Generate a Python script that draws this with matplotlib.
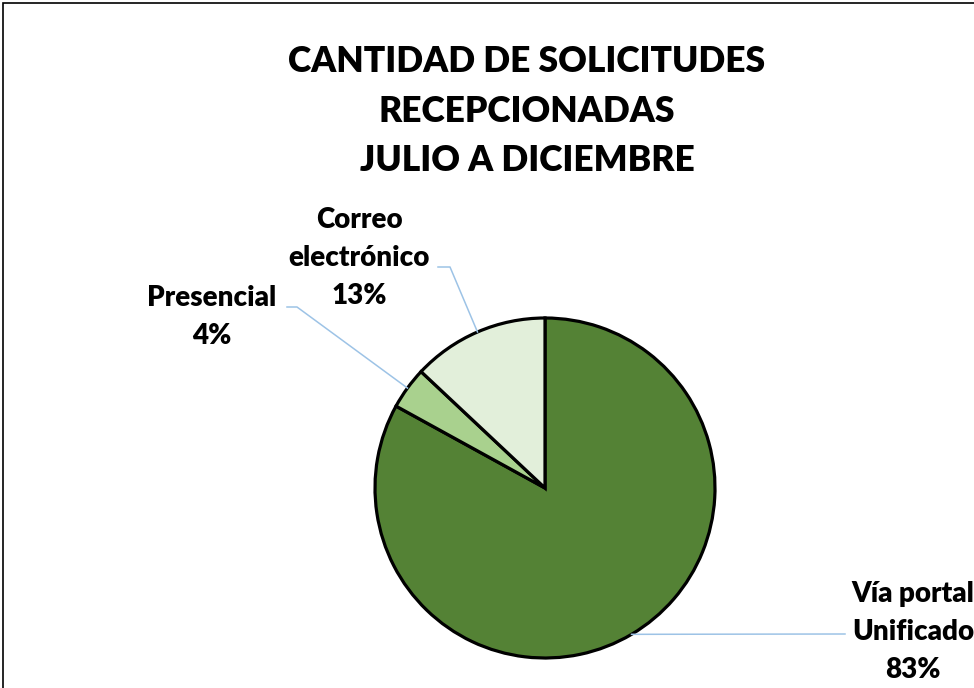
import matplotlib.pyplot as plt
from matplotlib.patches import Rectangle
from matplotlib.lines import Line2D
import numpy as np

W, H = 974, 688

CATEGORIES = ['Vía portal\nUnificado', 'Presencial', 'Correo\nelectrónico']
PERCENTS = [83, 4, 13]
COLORS = ['#548235', '#a9d18e', '#e2efda']
TITLE = 'CANTIDAD DE SOLICITUDES\nRECEPCIONADAS\nJULIO A DICIEMBRE'

FONT = 'Lato'
LEADER = '#9dc3e6'


def fx(x):
    return x / W


def fy(y):
    return 1 - y / H


fig = plt.figure(figsize=(W / 100, H / 100), dpi=100)

# outer chart border (right and bottom edges run off the picture)
fig.patches.append(Rectangle((fx(3), fy(H + 10)), fx(W + 10), fy(3) - fy(H + 10),
                             transform=fig.transFigure, fill=False,
                             edgecolor='black', linewidth=1.2))

fig.text(fx(527), fy(111), TITLE, ha='center', va='center', fontsize=25.5,
         fontweight='heavy', family=FONT, linespacing=1.6)

# pie centre (545, 488), radius 170 px
r = 170
ax = fig.add_axes([fx(545 - r), fy(488 + r), fx(2 * r), fy(488 - r) - fy(488 + r)])
wedges, _ = ax.pie(PERCENTS, colors=COLORS, startangle=90, counterclock=False,
                   wedgeprops=dict(edgecolor='black', linewidth=2.3))
ax.set_xlim(-1, 1)
ax.set_ylim(-1, 1)
ax.set_aspect('equal')
ax.axis('off')


def anchor(w):
    ang = np.deg2rad((w.theta1 + w.theta2) / 2)
    x, y = np.cos(ang), np.sin(ang)
    disp = ax.transData.transform((x, y))
    return fig.transFigure.inverted().transform(disp)


# label text centres and leader elbows (pixels)
label_pos = [(913, 632), (212, 317), (359, 258)]
elbows = [[(845, 634)], [(287, 307), (297, 307)], [(438, 267), (450, 267)]]

for w, cat, pct, (tx, ty), elb in zip(wedges, CATEGORIES, PERCENTS, label_pos, elbows):
    fig.text(fx(tx), fy(ty), f'{cat}\n{pct}%', ha='center', va='center',
             fontsize=20, fontweight='heavy', family=FONT, linespacing=1.55)
    ax_pt = anchor(w)
    xs = [fx(p[0]) for p in elb] + [ax_pt[0]]
    ys = [fy(p[1]) for p in elb] + [ax_pt[1]]
    fig.add_artist(Line2D(xs, ys, transform=fig.transFigure, color=LEADER, linewidth=1.1))

fig.savefig('out.png', dpi=100, facecolor='white')
